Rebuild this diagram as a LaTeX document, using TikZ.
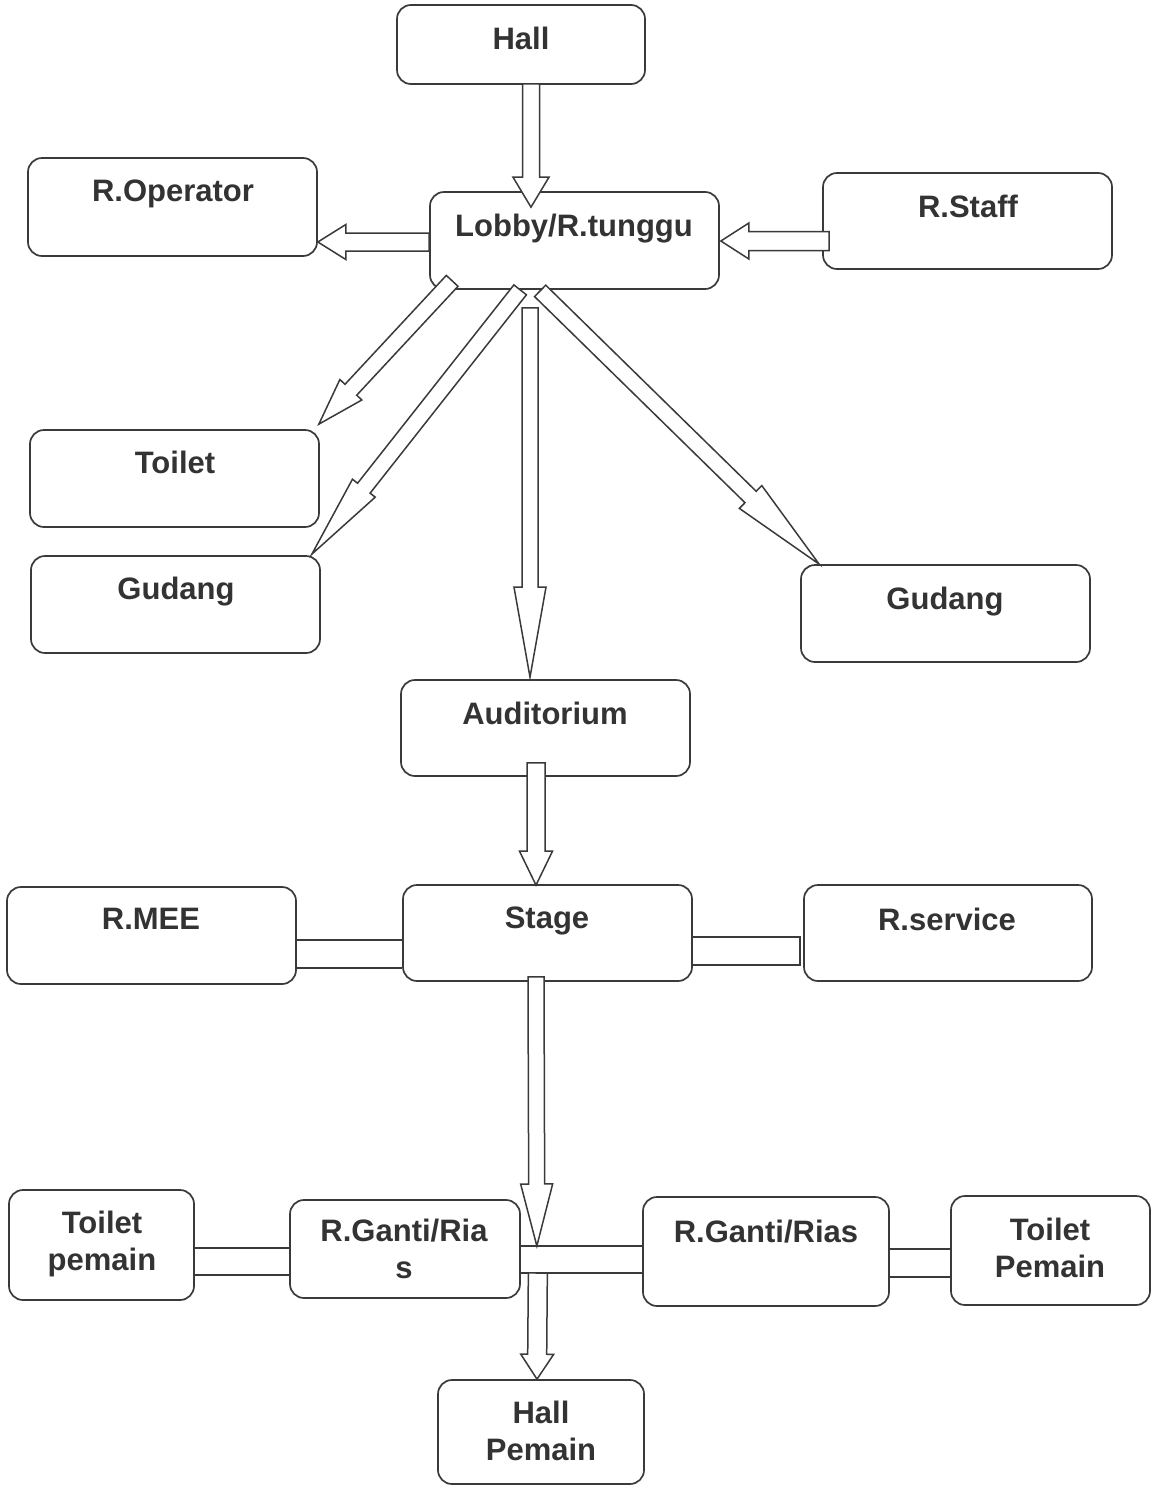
\documentclass[tikz,border=0pt]{standalone}
\usepackage{fontspec}
\setmainfont{Liberation Sans}
\usetikzlibrary{calc}
\definecolor{ink}{HTML}{3A3A3A}
\definecolor{txt}{HTML}{333333}
\tikzset{
  box/.style={draw=ink, line width=1.7pt, rounded corners=14pt, fill=white, inner sep=0pt},
  lbl/.style={font=\fontsize{31}{36.5}\selectfont\bfseries, text=txt, inner sep=0pt, anchor=north, align=center},
  blk/.style={draw=ink, line width=1.5pt, fill=white, line join=miter},
  barline/.style={draw=ink, line width=1.5pt},
}
% #1 start, #2 tip, #3 half shaft width, #4 half head width, #5 head length
\newcommand{\blockarrow}[5]{%
  \path ($(#2)!#5pt!(#1)$) coordinate (ba-h);
  \filldraw[blk] ($(#1)!#3pt!90:(#2)$) -- ($(ba-h)!#3pt!90:(#2)$) -- ($(ba-h)!#4pt!90:(#2)$) -- (#2)
     -- ($(ba-h)!#4pt!-90:(#2)$) -- ($(ba-h)!#3pt!-90:(#2)$) -- ($(#1)!#3pt!-90:(#2)$) -- cycle;
}
\begin{document}
\begin{tikzpicture}[x=1pt,y=-1pt]
\useasboundingbox (0,0) rectangle (1156,1486);

% boxes
\node[box, minimum width=248pt, minimum height=79pt] (hall) at (521,44.5) {};
\node[box, minimum width=289pt, minimum height=98pt] (oper) at (172.5,207) {};
\node[box, minimum width=289pt, minimum height=97pt] (lobby) at (574.5,240.5) {};
\node[box, minimum width=289pt, minimum height=96pt] (staff) at (967.5,221) {};
\node[box, minimum width=289pt, minimum height=97pt] (toilet) at (174.5,478.5) {};
\node[box, minimum width=289pt, minimum height=97pt] (gudL) at (175.5,604.5) {};
\node[box, minimum width=289pt, minimum height=97pt] (gudR) at (945.5,613.5) {};
\node[box, minimum width=289pt, minimum height=96pt] (aud) at (545.5,728) {};
\node[box, minimum width=289pt, minimum height=97pt] (mee) at (151.5,935.5) {};
\node[box, minimum width=289pt, minimum height=96pt] (stage) at (547.5,933) {};
\node[box, minimum width=288pt, minimum height=96pt] (serv) at (948,933) {};
\node[box, minimum width=185pt, minimum height=110pt] (tp1) at (101.5,1245) {};
\node[box, minimum width=230pt, minimum height=98pt] (rg1) at (405,1249) {};
\node[box, minimum width=246pt, minimum height=109pt] (rg2) at (766,1251.5) {};
\node[box, minimum width=199pt, minimum height=109pt] (tp2) at (1050.5,1250.5) {};
\node[box, minimum width=206pt, minimum height=104pt] (hp) at (541,1432) {};

% labels
\node[lbl] (hall-t) at (521,27) {Hall};
\node[lbl] (oper-t) at (173,180) {R.Operator};
\node[lbl] (lobby-t) at (574,214) {Lobby/R.tunggu};
\node[lbl] (staff-t) at (968,195) {R.Staff};
\node[lbl] (toilet-t) at (175,451) {Toilet};
\node[lbl] (gudL-t) at (176,577) {Gudang};
\node[lbl] (gudR-t) at (945,587) {Gudang};
\node[lbl] (aud-t) at (545,702) {Auditorium};
\node[lbl] (mee-t) at (151,908) {R.MEE};
\node[lbl] (stage-t) at (547,907) {Stage};
\node[lbl] (serv-t) at (947,908) {R.service};
\node[lbl] (tp1-t) at (102,1211) {Toilet\\pemain};
\node[lbl] (rg1-t) at (404,1219) {R.Ganti/Ria\\s};
\node[lbl] (rg2-t) at (766,1220) {R.Ganti/Rias};
\node[lbl] (tp2-t) at (1050,1218) {Toilet\\Pemain};
\node[lbl] (hp-t) at (541,1401) {Hall\\Pemain};

% double-line connectors
\draw[barline] ($(mee.east)+(0,4.5)$) -- ($(stage.west)+(0,7)$);
\draw[barline] ($(mee.east)+(0,32.5)$) -- ($(stage.west)+(0,35)$);
\draw[barline] ($(stage.east)+(0,4)$) -- ($(serv.west)+(-3,4)$) -- ($(serv.west)+(-3,32)$) -- ($(stage.east)+(0,32)$);
\draw[barline] ($(tp1.east)+(0,3)$) -- ($(rg1.west)+(0,-1)$);
\draw[barline] ($(tp1.east)+(0,30)$) -- ($(rg1.west)+(0,26)$);
\draw[barline] ($(rg1.east)+(0,-3)$) -- ($(rg2.west)+(0,-5.5)$);
\draw[barline] ($(rg1.east)+(0,24)$) -- ($(rg2.west)+(0,21.5)$);
\draw[barline] ($(rg2.east)+(0,-2.5)$) -- ($(tp2.west)+(0,-1.5)$);
\draw[barline] ($(rg2.east)+(0,25.5)$) -- ($(tp2.west)+(0,26.5)$);

% arrow end points
\coordinate (a1s) at ($(hall.south)+(10,-1)$);
\coordinate (a1e) at ($(lobby.north)+(-43.5,16)$);
\coordinate (a2s) at ($(lobby.west)+(0,1.5)$);
\coordinate (a2e) at ($(oper.east)+(0,35)$);
\coordinate (a3s) at ($(staff.west)+(7,20)$);
\coordinate (a3e) at ($(lobby.east)+(1,0.5)$);
\coordinate (a4s) at ($(lobby.south west)+(23,-9)$);
\coordinate (a4e) at ($(toilet.north east)+(-1,-5)$);
\coordinate (a5s) at ($(lobby.south west)+(91,0)$);
\coordinate (a5e) at ($(gudL.north east)+(-9,-1)$);
\coordinate (a6s) at ($(lobby.south west)+(111,1)$);
\coordinate (a6e) at ($(gudR.north west)+(19,0)$);
\coordinate (a7s) at ($(lobby.south)+(-44.5,18)$);
\coordinate (a7e) at ($(aud.north)+(-15.5,-2)$);
\coordinate (a8s) at ($(aud.south)+(-9.5,-14)$);
\coordinate (a8e) at ($(stage.north)+(-11.5,1)$);
\coordinate (a9s) at ($(stage.south)+(-11.5,-5)$);
\coordinate (jt) at ($(rg1.east)+(16,-3)$);
\coordinate (jb) at ($(rg1.east)+(17,24)$);
\coordinate (a10e) at ($(hp.north)+(-4,0)$);

% block arrows
\blockarrow{a1s}{a1e}{8.5}{18}{30}
\blockarrow{a2s}{a2e}{9}{17.5}{28}
\blockarrow{a3s}{a3e}{9.5}{18}{28}
\blockarrow{a4s}{a4e}{8}{15}{47}
\blockarrow{a5s}{a5e}{8}{14.5}{84}
\blockarrow{a6s}{a6e}{8}{16}{96}
\blockarrow{a7s}{a7e}{8}{16}{90}
\blockarrow{a8s}{a8e}{9}{16.5}{34}
\blockarrow{a9s}{jt}{8}{16}{62}
\blockarrow{jb}{a10e}{9.5}{16.5}{25}
\end{tikzpicture}
\end{document}
